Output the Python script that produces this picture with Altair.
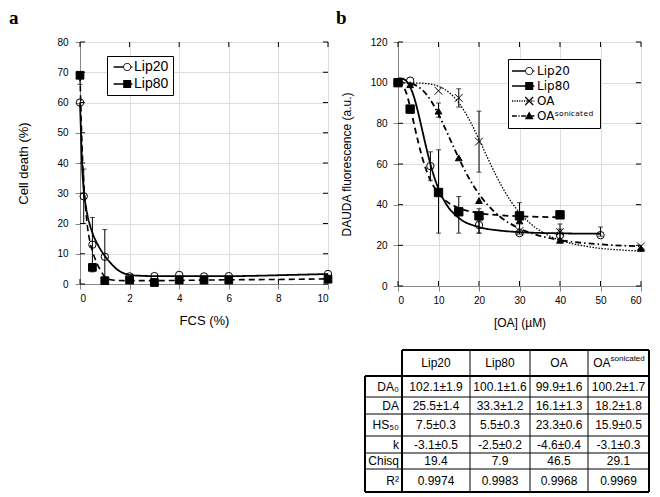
import altair as alt
import pandas as pd

# ---------------- Panel a : cell death vs FCS ----------------
A_SERIES = ["Lip20", "Lip80"]
A_LIP20_X = [0, 0.15, 0.5, 1, 2, 3, 4, 5, 6, 10]
A_LIP20_Y = [60, 29, 13, 9, 2.5, 2.6, 3, 2.5, 2.6, 3.3]
A_LIP80_X = [0, 0.5, 1, 2, 3, 4, 5, 6, 10]
A_LIP80_Y = [69, 5.5, 1.1, 1.3, 0.5, 1.3, 1.3, 1.3, 1.6]
A_LIP20_ERR_X = [0.15, 0.5, 1]
A_LIP20_ERR_LO = [20, 4, 0]
A_LIP20_ERR_HI = [38, 22, 18]
A_LIP80_ERR_X = [0]
A_LIP80_ERR_LO = [66]
A_LIP80_ERR_HI = [69]
A_FIT20_X = [0, 0.04, 0.08, 0.15, 0.25, 0.4, 0.52, 0.75, 1.0, 1.25, 1.5, 1.75, 2.0, 2.5, 3, 4, 5, 6, 7, 8, 9, 10]
A_FIT20_Y = [60, 50, 40, 31, 25, 19.5, 16.5, 12.5, 9.3, 6.8, 4.8, 3.6, 3.0, 2.7, 2.6, 2.6, 2.6, 2.6, 2.7, 2.9, 3.1, 3.3]
A_FIT80_X = [0, 0.05, 0.1, 0.2, 0.3, 0.4, 0.5, 0.6, 0.7, 0.85, 1.0, 1.2, 1.5, 2, 3, 4, 5, 6, 8, 10]
A_FIT80_Y = [69, 54, 42, 28, 19, 14, 11, 8.5, 6.5, 4.2, 2.4, 1.5, 1.2, 1.1, 1.1, 1.2, 1.3, 1.4, 1.5, 1.7]
A_XTICKS = [0, 2, 4, 6, 8, 10]
A_YTICKS = [0, 10, 20, 30, 40, 50, 60, 70, 80]

# ---------------- Panel b : DAUDA fluorescence vs [OA] ----------------
SUP = "\u02e2\u1d52\u207f\u2071\u1d9c\u1d43\u1d57\u1d49\u1d48"  # "sonicated" as superscript letters
B_SERIES = ["Lip20", "Lip80", "OA", "OA" + SUP]
B_LIP20_X = [0, 3, 8, 20, 30, 40, 50]
B_LIP20_Y = [100, 101, 59, 30, 26, 25, 25]
B_LIP80_X = [0, 3, 10, 15, 20, 30, 40]
B_LIP80_Y = [100, 87, 46, 36.5, 34.5, 34.5, 35]
B_OA_X = [10, 15, 20, 30, 40, 60]
B_OA_Y = [96, 92.5, 71, 27, 26.5, 19.5]
B_OAS_X = [3, 10, 15, 20, 30, 40, 60]
B_OAS_Y = [99, 86, 63, 42, 32, 22.5, 18.5]
B_LIP20_ERR_X = [8, 20, 40, 50]
B_LIP20_ERR_LO = [52, 26, 21.5, 24.5]
B_LIP20_ERR_HI = [66, 32, 28, 29]
B_LIP80_ERR_X = [10, 15, 20, 30]
B_LIP80_ERR_LO = [26, 26, 26, 25.5]
B_LIP80_ERR_HI = [67, 44, 38, 41]
B_OA_ERR_X = [15, 20, 40]
B_OA_ERR_LO = [88, 56, 23]
B_OA_ERR_HI = [97, 86, 30.5]
B_OAS_ERR_X = [10]
B_OAS_ERR_LO = [83]
B_OAS_ERR_HI = [90]
B_FIT20_X = [0, 1, 2, 3, 4, 5, 6, 7, 8, 9, 10, 12, 15, 20, 25, 30, 40, 50]
B_FIT20_Y = [102.1, 102.0, 100.9, 97.9, 92.6, 85.1, 76.5, 67.9, 60.0, 53.3, 47.8, 40.0, 33.5, 29.0, 27.3, 26.5, 25.9, 25.7]
B_FIT80_X = [0, 1, 2, 3, 4, 5, 6, 7, 8, 9, 10, 12, 15, 20, 25, 30, 40]
B_FIT80_Y = [100.1, 99.2, 95.2, 88.1, 79.3, 70.7, 63.1, 56.9, 52.1, 48.4, 45.5, 41.6, 38.3, 35.9, 34.8, 34.3, 33.8]
B_FITOA_X = [0, 5, 8, 10, 12, 15, 18, 20, 22, 24, 26, 28, 30, 33, 36, 40, 45, 50, 55, 60]
B_FITOA_Y = [99.9, 99.8, 99.3, 98.2, 96.1, 90.1, 80.3, 72.1, 63.5, 55.2, 47.7, 41.3, 36.1, 30.2, 26.1, 22.5, 20.0, 18.5, 17.7, 17.2]
B_FITOAS_X = [0, 3, 5, 6, 8, 10, 12, 14, 16, 18, 20, 22, 25, 30, 35, 40, 50, 60]
B_FITOAS_Y = [100.2, 99.7, 98.0, 96.4, 91.5, 84.5, 76.0, 67.2, 58.8, 51.4, 45.2, 40.2, 34.4, 28.3, 24.7, 22.6, 20.5, 19.5]
B_XTICKS = [0, 10, 20, 30, 40, 50, 60]
B_YTICKS = [0, 20, 40, 60, 80, 100, 120]

# ---------------- Table ----------------
T_COLS = ["Lip20", "Lip80", "OA"]
T_LASTCOL = ["OA", "sonicated"]
T_ROWS = ["DA\u2080", "DA", "HS\u2085\u2080", "k", "Chisq", "R\u00b2"]
T_LIP20 = ["102.1\u00b11.9", "25.5\u00b11.4", "7.5\u00b10.3", "-3.1\u00b10.5", "19.4", "0.9974"]
T_LIP80 = ["100.1\u00b11.6", "33.3\u00b11.2", "5.5\u00b10.3", "-2.5\u00b10.2", "7.9", "0.9983"]
T_OA = ["99.9\u00b11.6", "16.1\u00b11.3", "23.3\u00b10.6", "-4.6\u00b10.4", "46.5", "0.9968"]
T_OAS = ["100.2\u00b11.7", "18.2\u00b11.8", "15.9\u00b10.5", "-3.1\u00b10.3", "29.1", "0.9969"]

FONT = "Liberation Sans"


# ---- legend symbol paths (line style + marker) drawn as filled shapes, in symbol units ----
def hbar(x0, x1, t=0.18):
    return f"M{x0:.2f},{-t}H{x1:.2f}V{t}H{x0:.2f}Z"


def dashed_path(x0, x1, pattern):
    out, x, i = [], x0, 0
    while x < x1 - 1e-9:
        seg = pattern[i % len(pattern)]
        if i % 2 == 0:
            out.append(hbar(x, min(x + seg, x1)))
        x += seg
        i += 1
    return "".join(out)


def marker_paths(c):
    h = 0.11
    ring = (f"M{c+1},0A1,1 0 1,1 {c-1},0A1,1 0 1,1 {c+1},0Z"
            f"M{c+0.8},0A0.8,0.8 0 1,0 {c-0.8},0A0.8,0.8 0 1,0 {c+0.8},0Z")
    square = f"M{c-1},-1H{c+1}V1H{c-1}Z"
    xmark = (f"M{c-1+h:.3f},{-1-h:.3f}L{c+1+h:.3f},{1-h:.3f}L{c+1-h:.3f},{1+h:.3f}L{c-1-h:.3f},{-1+h:.3f}Z"
             f"M{c-1+h:.3f},{1+h:.3f}L{c-1-h:.3f},{1-h:.3f}L{c+1-h:.3f},{-1-h:.3f}L{c+1+h:.3f},{-1+h:.3f}Z")
    tri = f"M{c},-1.15L{c+1.1},0.8H{c-1.1}Z"
    return ring, square, xmark, tri


def legend_paths(l0, l1, c):
    ring, square, xmark, tri = marker_paths(c)
    return [
        hbar(l0, c - 1) + hbar(c + 1, l1) + ring,
        hbar(l0, l1) + square,
        dashed_path(l0, l1, [0.3, 0.3]) + xmark,
        dashed_path(l0, l1, [1.2, 0.4, 0.3, 0.4]) + tri,
    ]


LEG_A = legend_paths(-1.1, 3.6, 2.3)[:2]
LEG_B = legend_paths(-2.0, 3.6, 2.3)
P_X = "M-1,-1L1,1M-1,1L1,-1"


def frame(series, xs, ys):
    return pd.DataFrame({"series": series, "x": xs, "y": ys})


def panel(width, height, xdom, ydom, xticks, yticks, xtitle, ytitle, letter,
          series, leg_names, leg_paths, leg_pos, leg_font, leg_fontsize, leg_rowpad, leg_pad, leg_laboff,
          axis_title_size, ytitle_pad, ylab_pad, xtitle_pad):
    xs = alt.Scale(domain=xdom, nice=False, zero=False)
    ys = alt.Scale(domain=ydom, nice=False, zero=False)
    xaxis = alt.Axis(values=xticks, title=xtitle, format="d", labelPadding=4,
                     titlePadding=xtitle_pad, titleFontSize=axis_title_size, titleFontWeight="normal")
    yaxis = alt.Axis(values=yticks, title=ytitle, format="d", labelPadding=ylab_pad,
                     titlePadding=ytitle_pad, titleFontSize=axis_title_size, titleFontWeight="normal")

    def X(f):
        return alt.X(f"{f}:Q", scale=xs, axis=xaxis)

    def Y(f):
        return alt.Y(f"{f}:Q", scale=ys, axis=yaxis)

    layers = []
    for s in series:
        layers.append(
            alt.Chart(s["fit"]).mark_line(color="black", strokeWidth=s["lw"], strokeDash=s["dash"],
                                          interpolate="monotone")
            .encode(x=X("x"), y=Y("y"))
        )
    for s in series:
        layers.append(
            alt.Chart(s["err"]).mark_rule(color="black", strokeWidth=1)
            .encode(x=X("x"), y=Y("lo"), y2="hi")
        )
        for col in ["lo", "hi"]:
            layers.append(
                alt.Chart(s["err"]).mark_tick(color="black", orient="horizontal", size=5, thickness=1)
                .encode(x=X("x"), y=Y(col))
            )
    for s in series:
        layers.append(
            alt.Chart(s["pts"]).mark_point(shape=s["shape"], filled=s["filled"], fill=s["fill"],
                                           stroke="black", strokeWidth=1, size=s["size"], opacity=1)
            .encode(x=X("x"), y=Y("y"))
        )
    legend = alt.Legend(title=None, orient="none", legendX=leg_pos[0], legendY=leg_pos[1],
                        strokeColor="black", fillColor="white", padding=leg_pad,
                        labelFont=leg_font, labelFontSize=leg_fontsize, labelColor="black",
                        labelOffset=leg_laboff, rowPadding=leg_rowpad, symbolSize=64,
                        symbolStrokeWidth=0, symbolOpacity=1, symbolFillColor="black")
    all_pts = pd.concat([s["pts"] for s in series])
    layers.append(
        alt.Chart(all_pts).mark_point(filled=True, fill="black", strokeWidth=0, size=64)
        .encode(
            x=X("x"), y=Y("y"),
            shape=alt.Shape("series:N", scale=alt.Scale(domain=leg_names, range=leg_paths), legend=legend),
        )
        .transform_filter("false")
    )
    tx = pd.DataFrame({"x": xticks})
    ty = pd.DataFrame({"y": yticks})
    layers.append(alt.Chart(tx).mark_rule(color="black").encode(x=X("x"), y=alt.value(height), y2=alt.value(height - 5)))
    layers.append(alt.Chart(tx).mark_rule(color="black").encode(x=X("x"), y=alt.value(0), y2=alt.value(5)))
    layers.append(alt.Chart(ty).mark_rule(color="black").encode(y=Y("y"), x=alt.value(0), x2=alt.value(5)))
    layers.append(alt.Chart(ty).mark_rule(color="black").encode(y=Y("y"), x=alt.value(width), x2=alt.value(width - 5)))

    return alt.layer(*layers).properties(
        width=width, height=height,
        view=alt.ViewBackground(stroke="black", strokeWidth=1),
        title=alt.TitleParams(letter["text"], anchor="start", frame="group", dx=letter["dx"],
                              font="Liberation Serif", fontSize=19, fontWeight="bold",
                              baseline="alphabetic", offset=letter["offset"], color="black"),
    ).resolve_scale(shape="independent")


series_a = [
    dict(fit=frame("Lip20", A_FIT20_X, A_FIT20_Y), lw=1.8, dash=[1, 0],
         err=pd.DataFrame({"x": A_LIP20_ERR_X, "lo": A_LIP20_ERR_LO, "hi": A_LIP20_ERR_HI}),
         pts=frame("Lip20", A_LIP20_X, A_LIP20_Y), shape="circle", filled=False, fill="transparent", size=55),
    dict(fit=frame("Lip80", A_FIT80_X, A_FIT80_Y), lw=1.6, dash=[6, 4],
         err=pd.DataFrame({"x": A_LIP80_ERR_X, "lo": A_LIP80_ERR_LO, "hi": A_LIP80_ERR_HI}),
         pts=frame("Lip80", A_LIP80_X, A_LIP80_Y), shape="square", filled=True, fill="black", size=60),
]
series_b = [
    dict(fit=frame(B_SERIES[0], B_FIT20_X, B_FIT20_Y), lw=1.8, dash=[1, 0],
         err=pd.DataFrame({"x": B_LIP20_ERR_X, "lo": B_LIP20_ERR_LO, "hi": B_LIP20_ERR_HI}),
         pts=frame(B_SERIES[0], B_LIP20_X, B_LIP20_Y), shape="circle", filled=False, fill="transparent", size=55),
    dict(fit=frame(B_SERIES[1], B_FIT80_X, B_FIT80_Y), lw=1.8, dash=[6, 4],
         err=pd.DataFrame({"x": B_LIP80_ERR_X, "lo": B_LIP80_ERR_LO, "hi": B_LIP80_ERR_HI}),
         pts=frame(B_SERIES[1], B_LIP80_X, B_LIP80_Y), shape="square", filled=True, fill="black", size=70),
    dict(fit=frame(B_SERIES[2], B_FITOA_X, B_FITOA_Y), lw=1.3, dash=[1.5, 1.5],
         err=pd.DataFrame({"x": B_OA_ERR_X, "lo": B_OA_ERR_LO, "hi": B_OA_ERR_HI}),
         pts=frame(B_SERIES[2], B_OA_X, B_OA_Y), shape=P_X, filled=False, fill="transparent", size=60),
    dict(fit=frame(B_SERIES[3], B_FITOAS_X, B_FITOAS_Y), lw=1.8, dash=[6, 3, 1.5, 3],
         err=pd.DataFrame({"x": B_OAS_ERR_X, "lo": B_OAS_ERR_LO, "hi": B_OAS_ERR_HI}),
         pts=frame(B_SERIES[3], B_OAS_X, B_OAS_Y), shape="triangle-up", filled=True, fill="black", size=45),
]

panel_a = panel(248, 242, [0, 10], [0, 80], A_XTICKS, A_YTICKS, "FCS (%)", "Cell death (%)",
                dict(text="a", dx=-71, offset=-6),
                series_a, A_SERIES, LEG_A, (27, 14), FONT, 14, 3, 4, 9,
                13, 26, 7, 11)
panel_b = panel(243, 244, [0, 60], [0, 120], B_XTICKS, B_YTICKS, "[OA] (\u00b5M)", "DAUDA fluorescence (a.u.)",
                dict(text="b", dx=-62, offset=-6),
                series_b, B_SERIES, LEG_B,
                (110, 17), "DejaVu Sans", 12, 3, 6, 11,
                12, 17, 6, 12)

# ---------------- table chart ----------------
COL_W = [37, 68, 60, 58, 61]      # column widths (layout)
ROW_H = [26, 21, 17, 22, 17, 16, 23]  # row heights (layout)
col_edges = [sum(COL_W[:i]) for i in range(len(COL_W) + 1)]
row_edges = [sum(ROW_H[:i]) for i in range(len(ROW_H) + 1)]
TW, TH = col_edges[-1], row_edges[-1]
X0 = 33  # part of the first column that lies left of panel b's plot edge

tx = alt.X("x:Q", scale=alt.Scale(domain=[X0, TW], nice=False, zero=False), axis=None)
ty = alt.Y("y:Q", scale=alt.Scale(domain=[0, TH], nice=False, zero=False, reverse=True), axis=None)

row_c = [(row_edges[i] + row_edges[i + 1]) / 2 for i in range(len(ROW_H))]
col_c = [(col_edges[i] + col_edges[i + 1]) / 2 for i in range(len(COL_W))]

cells = []
for j, name in enumerate(T_COLS):
    cells.append({"x": col_c[j + 1], "y": row_c[0], "t": name})
for j, vals in enumerate([T_LIP20, T_LIP80, T_OA, T_OAS]):
    for i, v in enumerate(vals):
        cells.append({"x": col_c[j + 1], "y": row_c[i + 1], "t": v})
cells = pd.DataFrame(cells)
rowlab = pd.DataFrame({"x": [col_edges[1] - 3] * len(T_ROWS), "y": row_c[1:], "t": T_ROWS})
lastcol = pd.DataFrame({"x": [col_c[4]], "y": [row_c[0]], "t": [T_LASTCOL[0]], "s": [T_LASTCOL[1]]})

thick_h = pd.DataFrame({"y": [0, row_edges[1], TH], "x": [col_edges[1], 0, 0], "x2": [TW, TW, TW]})
thin_h = pd.DataFrame({"y": row_edges[2:-1], "x": [0] * (len(row_edges) - 3), "x2": [TW] * (len(row_edges) - 3)})
thick_v = pd.DataFrame({"x": [0, col_edges[1], TW], "y": [row_edges[1], 0, 0], "y2": [TH, TH, TH]})
thin_v = pd.DataFrame({"x": col_edges[2:-1], "y": [0] * (len(col_edges) - 3), "y2": [TH] * (len(col_edges) - 3)})

table = alt.layer(
    alt.Chart(thin_h).mark_rule(color="black", strokeWidth=1).encode(x=tx, x2="x2", y=ty),
    alt.Chart(thin_v).mark_rule(color="black", strokeWidth=1).encode(x=tx, y=ty, y2="y2"),
    alt.Chart(thick_h).mark_rule(color="black", strokeWidth=2).encode(x=tx, x2="x2", y=ty),
    alt.Chart(thick_v).mark_rule(color="black", strokeWidth=2).encode(x=tx, y=ty, y2="y2"),
    alt.Chart(cells).mark_text(font=FONT, fontSize=12, color="black", baseline="middle", align="center")
    .encode(x=tx, y=ty, text="t:N"),
    alt.Chart(rowlab).mark_text(font=FONT, fontSize=12, color="black", baseline="middle", align="right")
    .encode(x=tx, y=ty, text="t:N"),
    alt.Chart(lastcol).mark_text(font=FONT, fontSize=12, color="black", baseline="middle", align="right", dx=-8)
    .encode(x=tx, y=ty, text="t:N"),
    alt.Chart(lastcol).mark_text(font=FONT, fontSize=8, color="black", baseline="middle", align="left", dx=-8, dy=-4)
    .encode(x=tx, y=ty, text="s:N"),
).properties(width=TW - X0, height=TH, view=alt.ViewBackground(strokeOpacity=0))

spacer = alt.Chart(pd.DataFrame({"x": [0], "y": [0]})).mark_point(opacity=0).encode(
    x=alt.X("x:Q", axis=None), y=alt.Y("y:Q", axis=None)
).properties(width=10, height=10, view=alt.ViewBackground(strokeOpacity=0))

chart = alt.concat(panel_a, panel_b, spacer, table, columns=2,
                   spacing={"row": 20, "column": 0}).properties(padding=0).resolve_scale(
    shape="independent"
).resolve_legend(shape="independent").configure_axis(
    grid=False, ticks=False, tickSize=0, domain=False,
    labelFont=FONT, titleFont=FONT, labelFontSize=11, labelColor="#333",
    titleColor="#111", titleFontWeight="normal",
).configure(background="white")

chart.save("out.html", embed_options={"renderer": "svg", "actions": False})
